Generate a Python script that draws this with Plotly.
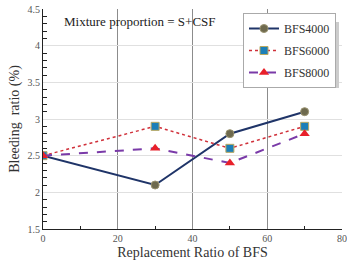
import plotly.graph_objects as go

x_vals = [0, 30, 50, 70]
bfs4000 = [2.5, 2.1, 2.8, 3.1]
bfs6000 = [2.5, 2.9, 2.6, 2.9]
bfs8000 = [2.5, 2.6, 2.4, 2.8]

W, H = 347, 264
L, R, T, B = 43, 5, 9, 35
pw, ph = W - L - R, H - T - B

def px(xp):
    return (xp - L) / pw

def py(yp):
    return (H - B - yp) / ph

SERIF = "Liberation Serif, Times New Roman, serif"

fig = go.Figure()
fig.add_trace(go.Scatter(x=x_vals, y=bfs4000, name="BFS4000", mode="lines+markers", legendgroup="a",
                         line=dict(color="#1f3468", width=2, dash="solid"),
                         marker=dict(symbol="circle", size=8, color="#6e6a4e", line=dict(color="#9a9370", width=1))))
fig.add_trace(go.Scatter(x=x_vals, y=bfs6000, name="BFS6000", mode="lines+markers", legendgroup="b",
                         line=dict(color="#d0303a", width=1.5, dash="dot"),
                         marker=dict(symbol="square", size=8, color="#1c7fb8", line=dict(color="#b8a860", width=1))))
fig.add_trace(go.Scatter(x=x_vals, y=bfs8000, name="BFS8000", mode="lines+markers", legendgroup="c",
                         line=dict(color="#7a3aa8", width=2, dash="dash"),
                         marker=dict(symbol="triangle-up", size=9, color="#e8202a", line=dict(color="#e8202a", width=0))))

# legend shadow
fig.add_shape(type="rect", xref="paper", yref="paper",
              x0=px(270), x1=px(339), y0=py(88), y1=py(22),
              fillcolor="#cccccc", line=dict(width=0), layer="above")

fig.add_annotation(text="Mixture proportion = S+CSF", xref="paper", yref="paper",
                   x=px(62), y=py(21), xanchor="left", yanchor="middle", showarrow=False,
                   font=dict(family=SERIF, size=13, color="#222"))

fig.update_layout(
    width=W, height=H, margin=dict(l=L, r=R, t=T, b=B),
    paper_bgcolor="white", plot_bgcolor="white",
    font=dict(family=SERIF, color="#333"),
    showlegend=True,
    legend=dict(x=px(336), y=py(13), xanchor="right", yanchor="top",
                bgcolor="white", bordercolor="#aaaaaa", borderwidth=1,
                font=dict(family=SERIF, size=12, color="#333"),
                traceorder="grouped", tracegroupgap=3, itemwidth=30),
    xaxis=dict(range=[0, 80], dtick=20, showgrid=True, gridcolor="#8c8c8c", gridwidth=1,
               showline=True, linecolor="#222", linewidth=1, zeroline=False, automargin=False,
               ticks="", tickfont=dict(family=SERIF, size=10, color="#555"),
               minor=dict(dtick=10, ticks="inside", ticklen=3, tickcolor="#222", showgrid=False),
               title=dict(text="Replacement Ratio of BFS", font=dict(family=SERIF, size=14, color="#333"), standoff=4)),
    yaxis=dict(range=[1.5, 4.5], dtick=0.5, showgrid=True, gridcolor="#e0e0e0", gridwidth=1,
               showline=True, linecolor="#222", linewidth=1, zeroline=False, automargin=False,
               ticks="", tickfont=dict(family=SERIF, size=10, color="#555"),
               minor=dict(dtick=0.1, ticks="inside", ticklen=4, tickcolor="#222", showgrid=False),
               title=dict(text="Bleeding  ratio (%)", font=dict(family=SERIF, size=14, color="#333"), standoff=4)),
)

fig.write_html("out.html")
